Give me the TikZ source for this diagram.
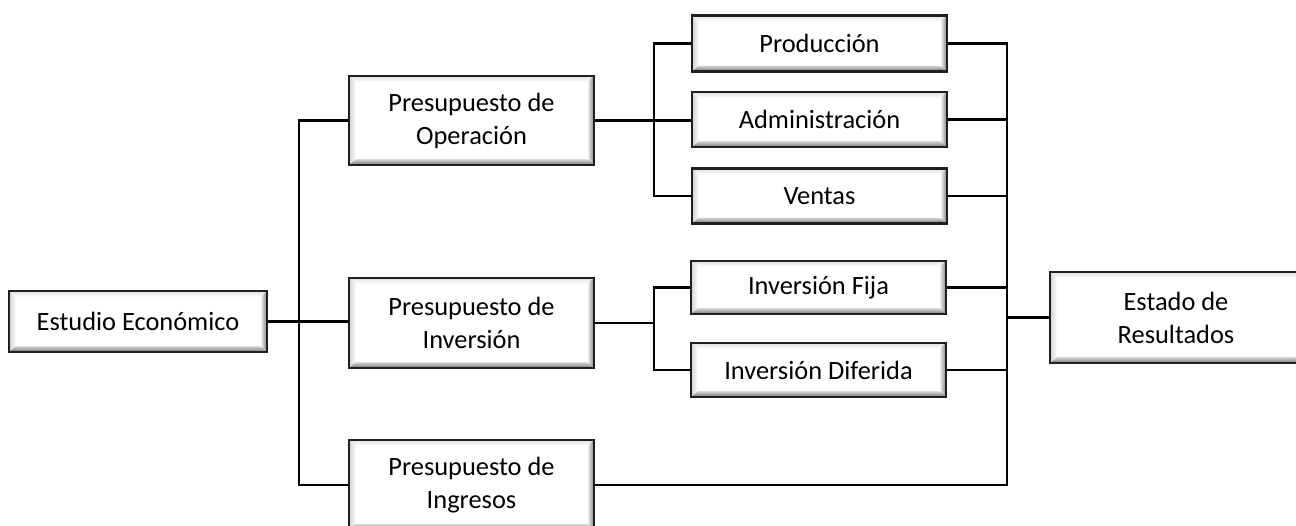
\documentclass[tikz,border=0pt]{standalone}
\usepackage{fontspec}
\setmainfont{Carlito}
\usetikzlibrary{calc}
\begin{document}
\begin{tikzpicture}[x=1pt,y=-1pt,
  box/.style={draw=black!88, line width=2.6pt, fill=white, align=center,
    inner sep=0pt, font=\fontsize{26.4}{33}\selectfont,
    path picture={
      \coordinate (bsw) at (path picture bounding box.south west);
      \coordinate (bse) at (path picture bounding box.south east);
      \coordinate (bnw) at (path picture bounding box.north west);
      \coordinate (bne) at (path picture bounding box.north east);
      % top bevel
      \shade[top color=black!12, bottom color=white]
        (bnw) -- (bne) -- ($(bne)+(-7pt,-6pt)$) -- ($(bnw)+(7pt,-6pt)$) -- cycle;
      % left bevel
      \shade[left color=black!18, right color=white]
        (bnw) -- ($(bnw)+(7pt,-6pt)$) -- ($(bsw)+(7pt,6pt)$) -- (bsw) -- cycle;
      % right bevel
      \shade[left color=white, right color=black!50]
        (bne) -- ($(bne)+(-7pt,-6pt)$) -- ($(bse)+(-7pt,6pt)$) -- (bse) -- cycle;
      % bottom bevel
      \shade[top color=black!15, bottom color=black!55]
        (bsw) -- ($(bsw)+(7pt,6pt)$) -- ($(bse)+(-7pt,6pt)$) -- (bse) -- cycle;
    }},
  conn/.style={draw=black, line width=2.5pt}
]
\useasboundingbox (0,0) rectangle (1296,525);
% nodes
\node[box, minimum width=258pt, minimum height=61pt] (est) at (138,321.5) {Estudio Económico};
\node[box, minimum width=245pt, minimum height=89pt] (op) at (471.5,120.5) {Presupuesto de\\Operación};
\node[box, minimum width=245pt, minimum height=90pt] (inv) at (471.5,323) {Presupuesto de\\Inversión};
\node[box, minimum width=245pt, minimum height=90pt] (ing) at (471.5,485) {Presupuesto de\\Ingresos};
\node[box, minimum width=255pt, minimum height=56pt] (prod) at (819.5,43.5) {Producción};
\node[box, minimum width=255pt, minimum height=55pt] (adm) at (819.5,119.5) {Administración};
\node[box, minimum width=255pt, minimum height=55pt] (ven) at (819.5,196) {Ventas};
\node[box, minimum width=255pt, minimum height=53pt] (fija) at (818.5,287.5) {Inversión Fija};
\node[box, minimum width=255pt, minimum height=54pt] (dif) at (818.5,370) {Inversión Diferida};
\node[box, minimum width=252pt, minimum height=91pt] (res) at (1176,317.5) {Estado de\\Resultados};
% junction coordinates
\coordinate (T) at (299,0);
\coordinate (S) at (654,0);
\coordinate (R) at (1007,0);
% connectors
\draw[conn] (est.east) -- (est.east -| inv.west);
\draw[conn] (op.west) -- (op.west -| T) -- (ing.west -| T) -- (ing.west);
\draw[conn] (op.east) -- (op.east -| adm.west);
\draw[conn] (prod.west) -- (prod.west -| S) -- (ven.west -| S) -- (ven.west);
\draw[conn] (inv.east) -- (inv.east -| S);
\draw[conn] (fija.west) -- (fija.west -| S) -- (dif.west -| S) -- (dif.west);
\draw[conn] (prod.east) -- (prod.east -| R) -- (ing.east -| R) -- (ing.east);
\draw[conn] (adm.east) -- (adm.east -| R);
\draw[conn] (ven.east) -- (ven.east -| R);
\draw[conn] (fija.east) -- (fija.east -| R);
\draw[conn] (dif.east) -- (dif.east -| R);
\draw[conn] (res.west) -- (res.west -| R);
\end{tikzpicture}
\end{document}
